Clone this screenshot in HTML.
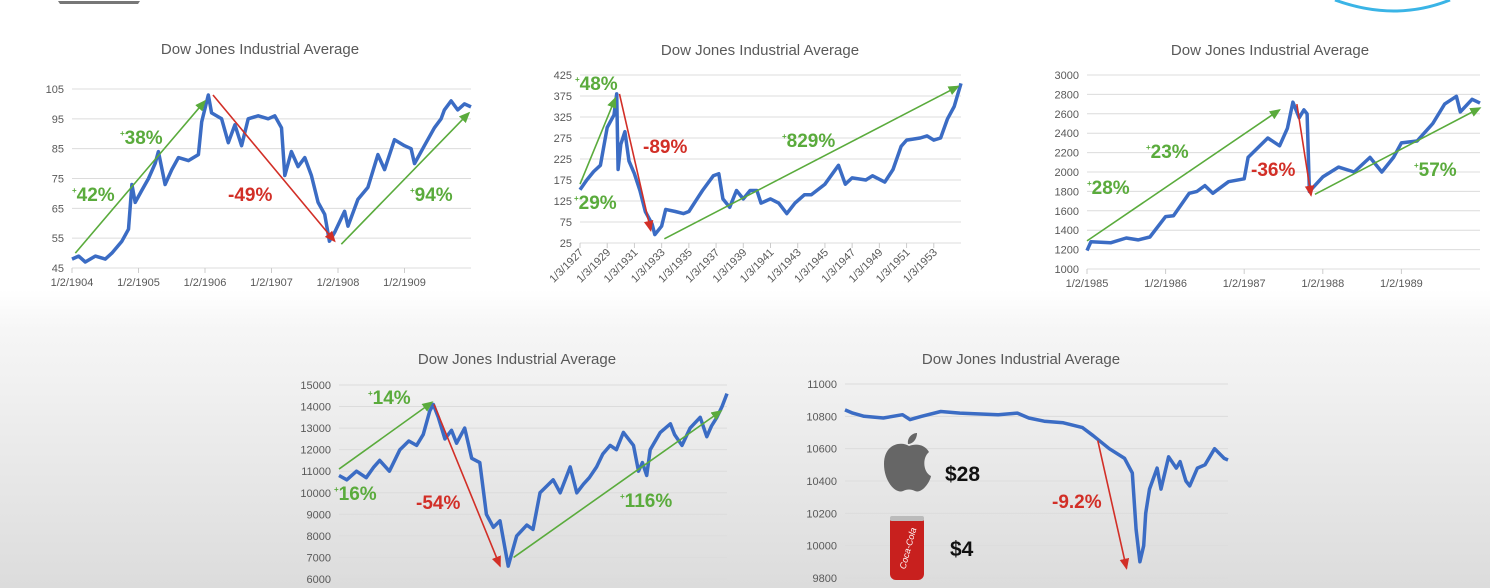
<!DOCTYPE html>
<html><head><meta charset="utf-8">
<style>
html,body{margin:0;padding:0;width:1490px;height:588px;overflow:hidden;}
body{background:linear-gradient(to bottom,#ffffff 0px,#ffffff 290px,#f6f6f6 330px,#e9e9e9 460px,#dcdcdc 588px);font-family:"Liberation Sans",sans-serif;}
svg{position:absolute;left:0;top:0;}
</style></head>
<body>
<svg id="s" width="1490" height="588" viewBox="0 0 1490 588" xmlns="http://www.w3.org/2000/svg">
<defs>
<marker id="ag" markerWidth="8" markerHeight="8" refX="6" refY="3" orient="auto" markerUnits="strokeWidth"><path d="M0,0 L7,3 L0,6 z" fill="#5aab3c"/></marker>
<marker id="ar" markerWidth="8" markerHeight="8" refX="6" refY="3" orient="auto" markerUnits="strokeWidth"><path d="M0,0 L7,3 L0,6 z" fill="#d22f27"/></marker>
</defs>
<path d="M58,1 L140,1 L138,4 L60,4 z" fill="#777"/>
<path d="M1335,0 Q1395,22 1450,0" fill="none" stroke="#3ab4e6" stroke-width="3"/>
<g id="logos">
<path d="M909,446 C902,441 884,443 884,464 C884,482 896,494 903,491 C907,489 911,489 915,491 C922,494 930,482 931,476 C923,472 922,458 929,452 C925,445 917,443 909,446 Z M908,444 C907,438 912,433 917,433 C917,439 913,444 908,444 Z" fill="#666"/>
<rect x="890" y="516" width="34" height="64" rx="6" fill="#c8201e"/>
<rect x="890" y="516" width="34" height="5" rx="2" fill="#bbb"/>
<text x="907" y="552" font-size="9" fill="#fff" font-style="italic" text-anchor="middle" transform="rotate(-75 907 548)">Coca-Cola</text>
<text x="945" y="481" font-size="21" font-weight="bold" fill="#111">$28</text>
<text x="950" y="556" font-size="21" font-weight="bold" fill="#111">$4</text>
</g>
</svg>
<script>
// ---------- Chart 1 (1904-1910)
const c1X=[1904.0,1904.1,1904.2,1904.35,1904.5,1904.6,1904.75,1904.85,1904.9,1904.95,1905.05,1905.15,1905.25,1905.3,1905.4,1905.5,1905.6,1905.75,1905.9,1905.95,1906.05,1906.1,1906.25,1906.35,1906.45,1906.55,1906.65,1906.8,1906.95,1907.05,1907.15,1907.2,1907.3,1907.4,1907.5,1907.6,1907.7,1907.8,1907.87,1907.95,1908.1,1908.15,1908.3,1908.45,1908.6,1908.7,1908.85,1909.0,1909.1,1909.15,1909.3,1909.45,1909.55,1909.6,1909.7,1909.8,1909.9,1910.0];
const c1Y=[48,49,47,49,48,50,54,58,73,67,71,75,80,84,73,78,82,81,83,94,103,97,95,87,93,86,95,96,95,96,92,76,84,79,82,76,67,63,54,57,64,59,68,72,83,78,88,86,85,80,86,92,95,98,101,98,100,99];
const c1Ticks=[45,55,65,75,85,95,105];
const c1XTicks=[1904,1905,1906,1907,1908,1909];
const c1XLabels=["1/2/1904","1/2/1905","1/2/1906","1/2/1907","1/2/1908","1/2/1909"];
// ---------- Chart 2 (1927-1955)
const c2X=[1927.0,1927.5,1928,1928.5,1929,1929.5,1929.7,1929.8,1930,1930.3,1930.6,1931,1931.4,1931.8,1932.3,1932.5,1933,1933.3,1934,1934.6,1935,1935.6,1936,1936.8,1937.2,1937.5,1938,1938.5,1939,1939.5,1940,1940.3,1941,1941.6,1942.2,1942.8,1943.5,1944,1945,1946,1946.5,1947,1948,1948.5,1949.4,1950,1950.6,1951,1952,1952.5,1953,1953.5,1954,1954.5,1955];
const c2Y=[152,175,195,210,300,330,380,200,260,290,220,190,150,100,70,45,65,105,100,95,100,130,150,185,190,130,110,150,130,150,150,120,130,120,95,120,140,140,165,210,165,180,175,185,170,200,255,270,275,280,270,275,320,350,405];
const c2Ticks=[25,75,125,175,225,275,325,375,425];
const c2XTicks=[1927,1929,1931,1933,1935,1937,1939,1941,1943,1945,1947,1949,1951,1953];
const c2XLabels=c2XTicks.map(y=>"1/3/"+y);
// ---------- Chart 3 (1985-1990)
const c3X=[1985.0,1985.05,1985.3,1985.5,1985.65,1985.8,1986.0,1986.1,1986.3,1986.4,1986.5,1986.6,1986.8,1987.0,1987.05,1987.3,1987.45,1987.55,1987.62,1987.7,1987.76,1987.8,1987.83,1988.0,1988.2,1988.4,1988.6,1988.75,1988.9,1989.0,1989.2,1989.4,1989.55,1989.7,1989.75,1989.9,1990.0];
const c3Y=[1190,1280,1270,1320,1300,1330,1540,1550,1780,1800,1860,1780,1900,1930,2150,2350,2270,2450,2720,2560,2640,2600,1800,1950,2050,2000,2150,2000,2150,2300,2320,2500,2700,2780,2620,2750,2710];
const c3Ticks=[1000,1200,1400,1600,1800,2000,2200,2400,2600,2800,3000];
const c3XTicks=[1985,1986,1987,1988,1989];
const c3XLabels=["1/2/1985","1/2/1986","1/2/1987","1/2/1988","1/2/1989"];
// ---------- Chart 4 (index 0-100)
const c4X=[0,2,4.5,7,9,10.5,13,15.7,18,20,21.7,23.4,24.3,25.6,27.3,29,30.3,32.4,34.2,36.3,38,39.8,41.5,43.6,45.8,48.4,50,51.8,53.5,55.2,57,59.6,61.3,63,64.5,66.4,68,69.9,71.5,73.3,75.9,77.2,78.2,79.3,80.2,82.8,85.4,86.5,88.4,90.5,93.1,94.8,96,97.4,98.7,100];
const c4Y=[10800,10600,11000,10700,11200,11500,11000,12000,12400,12200,12700,13800,14100,13500,12500,12900,12300,13000,11600,11400,9000,8400,8700,6600,8000,8500,8300,10000,10300,10600,10000,11200,10000,10400,10700,11200,11800,12200,12000,12800,12200,11000,11400,10800,12000,12800,13200,12700,12200,13000,13500,12600,13100,13500,14000,14600];
const c4Ticks=[6000,7000,8000,9000,10000,11000,12000,13000,14000,15000];
// ---------- Chart 5 (index 0-100)
const c5X=[0,2,5,10,15,17,20,25,30,40,45,48,52,57,62,64.8,69,73,75,76,77,78,78.5,79.5,81.5,82.5,84.5,86.5,87.5,89,90,92,94,96.5,99,100];
const c5Y=[10840,10820,10800,10790,10810,10780,10800,10830,10820,10810,10820,10790,10770,10760,10730,10680,10600,10540,10450,10100,9900,10000,10200,10350,10480,10350,10550,10480,10520,10400,10370,10480,10500,10600,10540,10530];
const c5Ticks=[9800,10000,10200,10400,10600,10800,11000];

const NS="http://www.w3.org/2000/svg";
const svg=document.getElementById('s');
function el(tag,attrs,parent){const e=document.createElementNS(NS,tag);for(const k in attrs)e.setAttribute(k,attrs[k]);(parent||svg).appendChild(e);return e;}

function chart(cfg){
  const g=el('g',{});
  
  
  const sx=v=>cfg.x0+(v-cfg.xmin)/(cfg.xmax-cfg.xmin)*(cfg.x1-cfg.x0);
  const sy=v=>cfg.y1-(v-cfg.ymin)/(cfg.ymax-cfg.ymin)*(cfg.y1-cfg.y0);
  const t=el('text',{x:cfg.tx,y:cfg.ty,'font-size':15,fill:'#595959','text-anchor':'middle'},g);
  t.textContent="Dow Jones Industrial Average";
  
  
  cfg.ticks.forEach(v=>{
    const l=el('line',{x1:cfg.x0,x2:cfg.x1,y1:sy(v),y2:sy(v),stroke:'#dcdcdc','stroke-width':1},g);
    
    
    const tl=el('text',{x:cfg.x0-8,y:sy(v)+4,'font-size':11,fill:'#595959','text-anchor':'end'},g);
    tl.textContent=v;
    
    
  });
  if(cfg.xt){
    cfg.xt.forEach((v,i)=>{
      el('line',{x1:sx(v),x2:sx(v),y1:cfg.y1,y2:cfg.y1+5,stroke:'#ccc'},g);
      let tl;
      if(cfg.rot){
        tl=el('text',{x:sx(v)+4,y:cfg.y1+10,'font-size':11,fill:'#595959','text-anchor':'end',transform:`rotate(-45 ${sx(v)+4} ${cfg.y1+10})`},g);
      } else {
        tl=el('text',{x:sx(v),y:cfg.y1+18,'font-size':11,fill:'#595959','text-anchor':'middle'},g);
      }
      tl.textContent=cfg.xl[i];
      
      
    });
  }
  const d=cfg.X.map((x,i)=>(i?'L':'M')+sx(x).toFixed(1)+','+sy(cfg.Y[i]).toFixed(1)).join(' ');
  const p=el('path',{d:d,fill:'none',stroke:'#3b6cc4','stroke-width':3.5,'stroke-linejoin':'round'},g);
  
  
  cfg.arrows.forEach(a=>{
    const red=a[4]==='r';
    const ln=el('line',{x1:sx(a[0]),y1:sy(a[1]),x2:sx(a[2]),y2:sy(a[3]),stroke:red?'#d22f27':'#5aab3c','stroke-width':1.6,'marker-end':red?'url(#ar)':'url(#ag)'},g);
    
    
  });
  cfg.labels.forEach(a=>{
    const red=a[3]==='r';
    const tx=el('text',{x:a[0],y:a[1],'font-size':19,fill:red?'#d22f27':'#5aab3c','font-weight':'bold'},g);
    if(!red){
      const sp=el('tspan',{'font-size':8,dy:-8},tx);
      sp.textContent='+';
      const sp2=el('tspan',{dy:8},tx);
      sp2.textContent=a[2];
    } else tx.textContent=a[2];
    
    
  });
}

chart({name:'chart-1904',x0:72,x1:471,xmin:1904,xmax:1910,y0:89,y1:268,ymin:45,ymax:105,tx:260,ty:54,
  ticks:c1Ticks,xt:c1XTicks,xl:c1XLabels,X:c1X,Y:c1Y,
  arrows:[[1904.05,50,1906.0,101,'g'],[1906.12,103,1907.95,54,'r'],[1908.05,53,1909.97,97,'g']],
  labels:[[72,201,'42%'],[120,144,'38%'],[228,201,'-49%','r'],[410,201,'94%']]});
chart({name:'chart-1927',x0:580,x1:961,xmin:1927,xmax:1955,y0:75,y1:243,ymin:25,ymax:425,tx:760,ty:55,
  ticks:c2Ticks,xt:c2XTicks,xl:c2XLabels,rot:true,X:c2X,Y:c2Y,
  arrows:[[1927.0,165,1929.6,370,'g'],[1929.9,380,1932.2,55,'r'],[1933.2,35,1954.8,398,'g']],
  labels:[[575,90,'48%'],[574,209,'29%'],[643,153,'-89%','r'],[782,147,'829%']]});
chart({name:'chart-1985',x0:1087,x1:1480,xmin:1985,xmax:1990,y0:75,y1:269,ymin:1000,ymax:3000,tx:1270,ty:55,
  ticks:c3Ticks,xt:c3XTicks,xl:c3XLabels,X:c3X,Y:c3Y,
  arrows:[[1985.0,1290,1987.45,2640,'g'],[1987.67,2700,1987.85,1760,'r'],[1987.9,1770,1990.0,2660,'g']],
  labels:[[1087,194,'28%'],[1146,158,'23%'],[1251,176,'-36%','r'],[1414,176,'57%']]});
chart({name:'chart-2007',x0:339,x1:727,xmin:0,xmax:100,y0:385,y1:579,ymin:6000,ymax:15000,tx:517,ty:364,
  ticks:c4Ticks,X:c4X,Y:c4Y,
  arrows:[[0,11100,24,14200,'g'],[24.5,14100,41.5,6600,'r'],[45,7000,98.5,13800,'g']],
  labels:[[334,500,'16%'],[368,404,'14%'],[416,509,'-54%','r'],[620,507,'116%']]});
chart({name:'chart-flash-crash',x0:845,x1:1228,xmin:0,xmax:100,y0:384,y1:578,ymin:9800,ymax:11000,tx:1021,ty:364,
  ticks:c5Ticks,X:c5X,Y:c5Y,
  arrows:[[66,10650,73.5,9860,'r']],
  labels:[[1052,508,'-9.2%','r']]});
svg.appendChild(document.getElementById('logos'));
</script>
</body></html>
